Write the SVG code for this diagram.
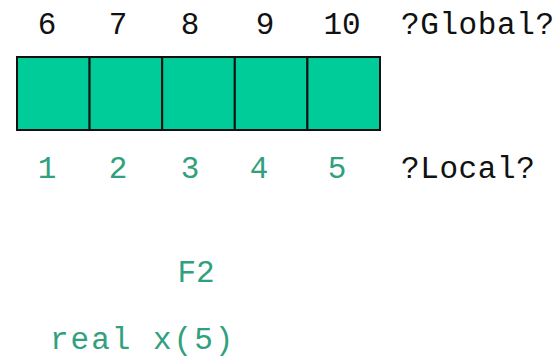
<svg xmlns="http://www.w3.org/2000/svg" width="556" height="364" viewBox="0 0 556 364">
<style>
text{font-family:"Liberation Mono","Courier New",monospace;font-size:31px}
.k{fill:#111111}
.t{fill:#30a07e}
.c{text-anchor:middle}
.cell{fill:#00cc99;stroke:#111111;stroke-width:2}
</style>
<rect width="556" height="364" fill="#ffffff"/>
<g id="array">
<rect class="cell" x="17" y="57" width="72.6" height="73"/>
<rect class="cell" x="89.6" y="57" width="72.6" height="73"/>
<rect class="cell" x="162.2" y="57" width="72.6" height="73"/>
<rect class="cell" x="234.8" y="57" width="72.6" height="73"/>
<rect class="cell" x="307.4" y="57" width="72.6" height="73"/>
</g>
<g id="global-labels">
<text class="k c" x="47" y="34">6</text>
<text class="k c" x="118" y="34">7</text>
<text class="k c" x="190" y="34">8</text>
<text class="k c" x="265" y="34">9</text>
<text class="k c" x="342" y="34">10</text>
<text class="k" x="401" y="34" letter-spacing="0.6">?Global?</text>
</g>
<g id="local-labels">
<text class="t c" x="47" y="178">1</text>
<text class="t c" x="118" y="178">2</text>
<text class="t c" x="190" y="178">3</text>
<text class="t c" x="259" y="178">4</text>
<text class="t c" x="337" y="178">5</text>
<text class="k" x="401" y="178" letter-spacing="0.6">?Local?</text>
</g>
<g id="code">
<text class="t c" x="196" y="282">F2</text>
<text class="t" x="50" y="349" letter-spacing="2">real x(5)</text>
</g>
</svg>
